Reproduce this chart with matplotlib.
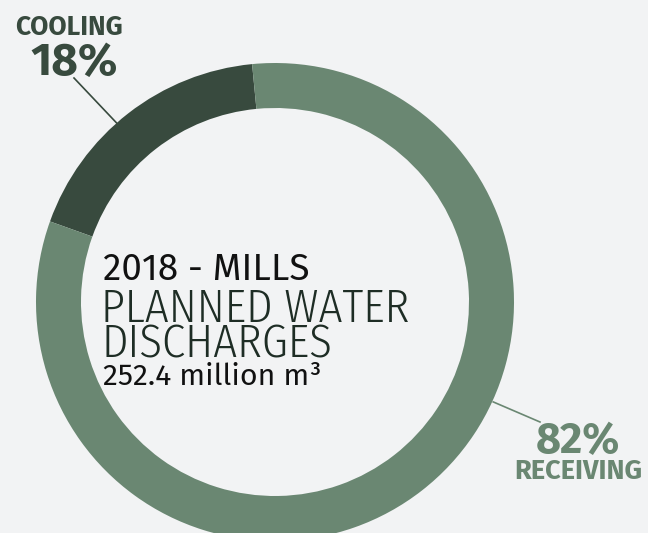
import matplotlib
matplotlib.use('Agg')
import matplotlib.pyplot as plt
import numpy as np

# dati
labels = ['COOLING', 'RECEIVING']
values = [18, 82]
colors = ['#384a3e', '#6a8772']
title_top = '2018 - MILLS'
title_main = ['PLANNED WATER', 'DISCHARGES']
total_text = '252.4 million m³'

bg = '#f2f3f4'

fig = plt.figure(figsize=(6.48, 5.33), dpi=100, facecolor=bg)
ax = fig.add_axes([0, 0, 1, 1])
ax.set_facecolor(bg)

cx, cy = 275, 231
r_out = 239
ring = 45
start = 95.5

ax.pie(values, colors=colors, startangle=start, counterclock=True,
       radius=r_out, center=(cx, cy), frame=True,
       wedgeprops=dict(width=ring, linewidth=0))
ax.set_xlim(0, 648)
ax.set_ylim(0, 533)
ax.set_aspect('equal')
ax.axis('off')

# linee guida
def on_ring(ang, r):
    a = np.deg2rad(ang)
    return cx + r * np.cos(a), cy + r * np.sin(a)

x0, y0 = on_ring(131.5, r_out)
ax.plot([x0, 74], [y0, 455], color=colors[0], lw=1.2)
x1, y1 = on_ring(-24.6, r_out + 1)
ax.plot([x1, 540], [y1, 111], color=colors[1], lw=1.2)

# etichette
ax.text(69, 498, labels[0], ha='center', va='baseline', fontsize=19,
        fontweight='bold', family='Fira Sans', color=colors[0])
ax.text(74, 458, f'{values[0]}%', ha='center', va='baseline', fontsize=33,
        fontweight='bold', family='Fira Sans', color=colors[0])
ax.text(578, 80, f'{values[1]}%', ha='center', va='baseline', fontsize=31,
        fontweight='bold', family='Fira Sans', color=colors[1])
ax.text(578, 54, labels[1], ha='center', va='baseline', fontsize=19.6,
        fontweight='bold', family='Fira Sans', color=colors[1])

# testo centrale
ax.text(103, 253, title_top, ha='left', va='baseline', fontsize=26.6,
        family='Fira Sans', color='#111111')
ax.text(101, 211, title_main[0], ha='left', va='baseline', fontsize=33.5,
        family='Fira Sans Condensed', fontweight=300, color='#1e2d25')
ax.text(101, 175, title_main[1], ha='left', va='baseline', fontsize=33.5,
        family='Fira Sans Condensed', fontweight=300, color='#1e2d25')
ax.text(103, 148, total_text, ha='left', va='baseline', fontsize=21.8,
        family='Fira Sans', color='#111111')

fig.savefig('out.png', dpi=100, facecolor=bg)
